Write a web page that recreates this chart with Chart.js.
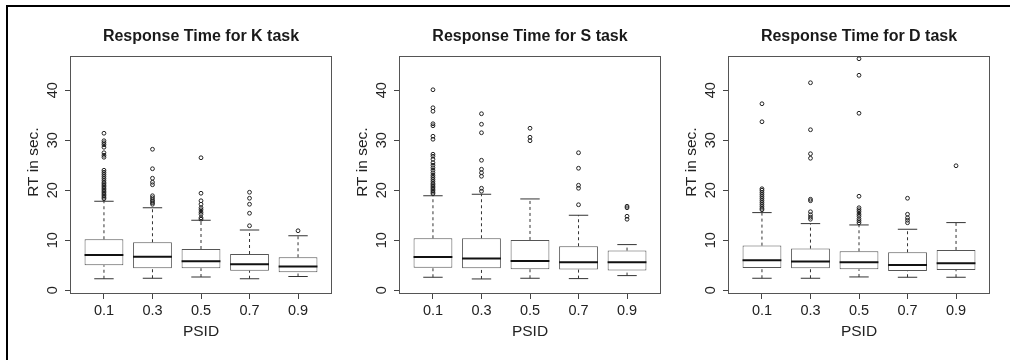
<!DOCTYPE html>
<html><head><meta charset="utf-8">
<script src="https://cdn.jsdelivr.net/npm/chart.js@4/dist/chart.umd.min.js"></script>
<style>
html,body{margin:0;padding:0;background:#fff;width:1010px;height:360px;overflow:hidden;position:relative;}
.frame{position:absolute;left:6px;top:5px;width:1100px;height:400px;border-left:2px solid #000;border-top:2px solid #000;}
canvas{position:absolute;top:0;}
</style></head><body>
<div class="frame"></div>
<canvas id="c1" width="337" height="360" style="left:0px"></canvas>
<canvas id="c2" width="337" height="360" style="left:329px"></canvas>
<canvas id="c3" width="337" height="360" style="left:658px"></canvas>
<script>
const psidLabels = ['0.1','0.3','0.5','0.7','0.9'];
const yTicks = [0,10,20,30,40];

// K task
const kQ1  = [5.0, 4.4, 4.4, 3.9, 3.6];
const kMed = [7.05, 6.7, 5.8, 5.2, 4.75];
const kQ3  = [10.2, 9.6, 8.25, 7.25, 6.6];
const kLo  = [2.3, 2.4, 2.65, 2.3, 2.75];
const kHi  = [17.8, 16.5, 14.0, 12.05, 10.9];
const kOut = [
  [18.3,18.6,18.9,19.2,19.5,19.8,20.1,20.4,20.7,21.0,21.3,21.6,22.0,22.4,22.8,23.2,23.6,24.0,26.6,27.0,27.5,28.6,29.1,29.5,29.9,31.4],
  [17.2,17.5,17.8,18.1,18.5,18.9,21.1,21.6,22.4,24.3,28.2],
  [14.2,14.5,15.2,15.6,16.1,16.5,17.2,17.9,19.4,26.5],
  [12.9,15.4,17.2,18.4,19.6],
  [11.9]
];

// S task
const sQ1  = [4.5, 4.4, 4.2, 4.13, 3.93];
const sMed = [6.66, 6.33, 5.86, 5.6, 5.6];
const sQ3  = [10.4, 10.4, 10.06, 8.8, 7.93];
const sLo  = [2.6, 2.26, 2.4, 2.33, 2.93];
const sHi  = [18.9, 19.2, 18.26, 15.0, 9.13];
const sOut = [
  [19.3,19.6,19.9,20.2,20.5,20.8,21.1,21.4,21.8,22.2,22.6,23.0,23.5,24.0,24.5,25.0,25.5,26.2,26.8,27.2,30.2,30.8,32.9,33.3,35.8,36.5,40.1],
  [19.8,20.4,22.8,23.5,24.2,26.0,31.5,33.2,35.3],
  [29.9,30.6,32.4],
  [17.1,20.4,21.0,24.4,27.5],
  [14.2,14.8,16.5,16.8]
];

// D task
const dQ1  = [4.46, 4.4, 4.2, 3.86, 4.06];
const dMed = [6.0, 5.73, 5.6, 5.06, 5.4];
const dQ3  = [8.93, 8.33, 7.8, 7.6, 8.06];
const dLo  = [2.4, 2.4, 2.66, 2.6, 2.6];
const dHi  = [15.53, 13.33, 13.06, 12.2, 13.53];
const dOut = [
  [16.1,16.4,16.8,17.2,17.6,18.0,18.4,18.8,19.2,19.6,20.0,20.3,33.7,37.3],
  [14.2,14.6,15.1,15.7,17.9,18.2,26.4,27.3,32.1,41.5],
  [13.5,13.9,14.3,14.8,15.2,15.7,16.1,16.5,18.8,35.4,43.0,46.3],
  [13.5,14.0,14.5,15.2,18.4],
  [24.9]
];

Chart.defaults.font.family = "'Liberation Sans', Arial, Helvetica, sans-serif";
Chart.defaults.color = '#222';

const framePlugin = {
  id: 'frame',
  beforeDatasetsDraw(chart) {
    const {ctx, chartArea: a} = chart;
    ctx.save();
    ctx.strokeStyle = '#555';
    ctx.lineWidth = 1;
    ctx.strokeRect(a.left + 0.5, a.top + 0.5, a.width - 1, a.height - 1);
    ctx.restore();
  }
};

function makeChart(id, title, q1, med, q3, lo, hi, out) {
  const pos = q1.map((v, i) => i + 1);
  const boxData = pos.map((x, i) => ({x, y: [q1[i], q3[i]]}));
  const medData = pos.flatMap((x, i) => [{x: x - 0.4, y: med[i]}, {x: x + 0.4, y: med[i]}, {x: x + 0.4, y: null}]);
  const whiskData = pos.flatMap((x, i) => [
    {x, y: q3[i]}, {x, y: hi[i]}, {x, y: null},
    {x, y: lo[i]}, {x, y: q1[i]}, {x, y: null}
  ]);
  const capData = pos.flatMap((x, i) => [
    {x: x - 0.2, y: hi[i]}, {x: x + 0.2, y: hi[i]}, {x: x + 0.2, y: null}
  ]).concat(pos.flatMap((x, i) => [
    {x: x - 0.2, y: lo[i]}, {x: x + 0.2, y: lo[i]}, {x: x + 0.2, y: null}
  ]));
  const outData = out.flatMap((arr, i) => arr.map(v => ({x: pos[i], y: v})));

  new Chart(document.getElementById(id), {
    type: 'bar',
    data: {
      datasets: [
        {type: 'bar', data: boxData, backgroundColor: '#fff', borderColor: '#555', borderWidth: 1,
         borderSkipped: false, categoryPercentage: 1, barPercentage: 0.8, order: 3},
        {type: 'line', data: medData, borderColor: '#111', borderWidth: 2, pointRadius: 0,
         spanGaps: false, fill: false, order: 0},
        {type: 'line', data: whiskData, borderColor: '#333', borderWidth: 1, borderDash: [3, 3],
         pointRadius: 0, spanGaps: false, fill: false, order: 1},
        {type: 'line', data: capData, borderColor: '#333', borderWidth: 1, pointRadius: 0,
         spanGaps: false, fill: false, order: 1},
        {type: 'scatter', data: outData, borderColor: '#222', backgroundColor: 'rgba(0,0,0,0)',
         borderWidth: 1, pointRadius: 1.9, pointStyle: 'circle', showLine: false, order: 0}
      ]
    },
    options: {
      responsive: false,
      animation: false,
      events: [],
      layout: {padding: {left: 0, right: 1, top: 0, bottom: 6}},
      plugins: {
        legend: {display: false},
        tooltip: {enabled: false},
        title: {display: true, text: title, fullSize: false, color: '#1a1a1a',
                font: {size: 16, weight: 'bold'}, padding: {top: 27, bottom: 9.8}}
      },
      scales: {
        x: {
          type: 'linear', min: 0.3, max: 5.7, offset: false,
          afterBuildTicks: s => { s.ticks = pos.map(v => ({value: v})); },
          afterFit: s => { s.height = 60; },
          ticks: {callback: (v, i) => psidLabels[i], font: {size: 14.5}, color: '#222',
                  padding: 3, autoSkip: false, maxRotation: 0, minRotation: 0},
          grid: {display: true, drawOnChartArea: false, drawTicks: true, tickLength: 5,
                 color: '#444', offset: false},
          border: {display: false},
          title: {display: true, text: 'PSID', font: {size: 15.5}, color: '#222',
                  padding: {top: 0, bottom: 13}}
        },
        y: {
          type: 'linear', min: -0.75, max: 46.85,
          afterBuildTicks: s => { s.ticks = yTicks.map(v => ({value: v})); },
          afterFit: s => { s.width = 70; },
          ticks: {font: {size: 14.5}, color: '#222', padding: 4, minRotation: 90, maxRotation: 90,
                  crossAlign: 'center', autoSkip: false},
          grid: {display: true, drawOnChartArea: false, drawTicks: true, tickLength: 5, color: '#444'},
          border: {display: false},
          title: {display: true, text: '\u00a0\u00a0\u00a0\u00a0\u00a0\u00a0RT in sec.', font: {size: 15.5}, color: '#222',
                  padding: {top: 24, bottom: 0}}
        }
      }
    },
    plugins: [framePlugin]
  });
}

makeChart('c1', 'Response Time for K task', kQ1, kMed, kQ3, kLo, kHi, kOut);
makeChart('c2', 'Response Time for S task', sQ1, sMed, sQ3, sLo, sHi, sOut);
makeChart('c3', 'Response Time for D task', dQ1, dMed, dQ3, dLo, dHi, dOut);
</script>
</body></html>
